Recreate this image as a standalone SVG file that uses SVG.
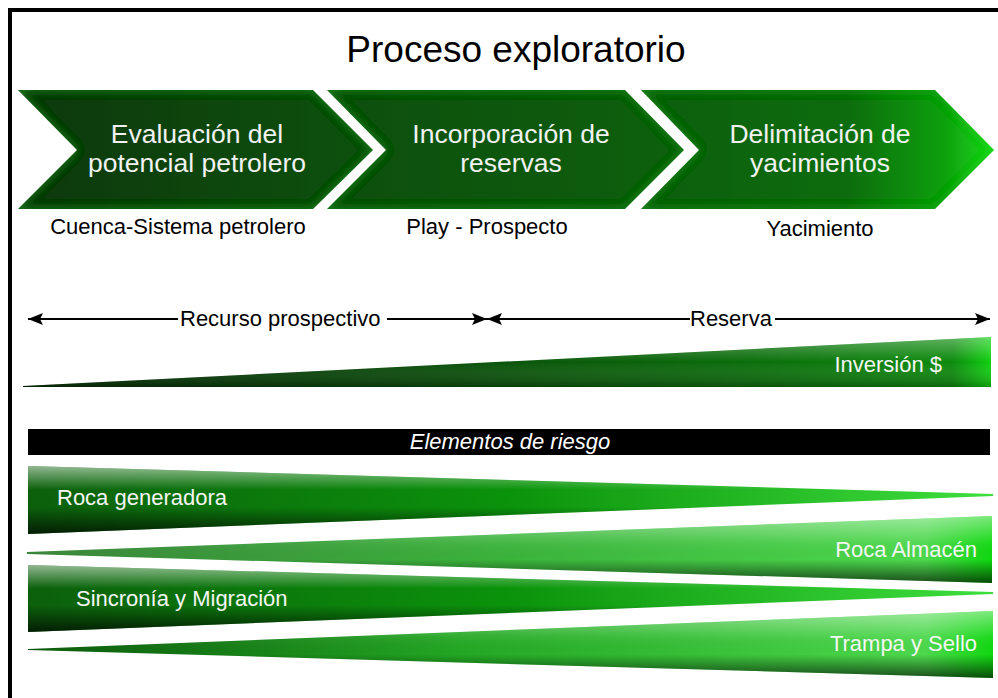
<svg xmlns="http://www.w3.org/2000/svg" width="998" height="698" viewBox="0 0 998 698">
<style>
text { font-family: "Liberation Sans", Arial, sans-serif; }
.title { font-size: 37px; fill: #000; }
.chev { font-size: 26.5px; fill: #f2f2f2; text-anchor: middle; }
.sub { font-size: 22px; fill: #000; text-anchor: middle; }
.lab { font-size: 22px; fill: #000; }
.wl { font-size: 22px; fill: #f6f6f6; }
.bar { font-size: 22px; fill: #fff; font-style: italic; text-anchor: middle; }
.ln { stroke: #000; stroke-width: 2.2; fill: none; }
</style>
<defs>
<linearGradient id="gChev" gradientUnits="userSpaceOnUse" x1="18" y1="0" x2="993" y2="0">
<stop offset="0" stop-color="#073807"/>
<stop offset="0.3" stop-color="#0a4d0a"/>
<stop offset="0.6" stop-color="#0a5c0a"/>
<stop offset="0.85" stop-color="#0b6c0b"/>
<stop offset="0.95" stop-color="#10a010"/>
<stop offset="1" stop-color="#16d816"/>
</linearGradient>
<filter id="bevel" x="-5%" y="-10%" width="110%" height="120%">
<feGaussianBlur in="SourceAlpha" stdDeviation="5" result="b"/>
<feComposite in="SourceAlpha" in2="b" operator="out" result="edge"/>
<feFlood flood-color="#3fcf3f" flood-opacity="0.25"/>
<feComposite in2="edge" operator="in" result="e2"/>
<feMerge><feMergeNode in="SourceGraphic"/><feMergeNode in="e2"/></feMerge>
</filter>
<linearGradient id="gInv" x1="0" y1="0" x2="1" y2="0">
<stop offset="0" stop-color="#062e06"/>
<stop offset="0.45" stop-color="#0a4f0a"/>
<stop offset="0.75" stop-color="#0b6e0b"/>
<stop offset="0.96" stop-color="#0d8a0d"/>
<stop offset="1" stop-color="#10d010"/>
</linearGradient>
<linearGradient id="gDec" x1="0" y1="0" x2="1" y2="0">
<stop offset="0" stop-color="#0c600c"/>
<stop offset="0.5" stop-color="#0b930b"/>
<stop offset="1" stop-color="#3ede3e"/>
</linearGradient>
<linearGradient id="gInc" x1="0" y1="0" x2="1" y2="0">
<stop offset="0" stop-color="#3a863a"/>
<stop offset="0.5" stop-color="#3bb43b"/>
<stop offset="0.93" stop-color="#4cd84c"/>
<stop offset="1" stop-color="#0fd80f"/>
</linearGradient>
<linearGradient id="gInc2" x1="0" y1="0" x2="1" y2="0">
<stop offset="0" stop-color="#0b5a0b"/>
<stop offset="0.45" stop-color="#23a823"/>
<stop offset="0.93" stop-color="#4cd84c"/>
<stop offset="1" stop-color="#0fd80f"/>
</linearGradient>
<linearGradient id="shade" x1="0" y1="0" x2="0" y2="1">
<stop offset="0" stop-color="#ffffff" stop-opacity="0.55"/>
<stop offset="0.35" stop-color="#ffffff" stop-opacity="0"/>
<stop offset="0.6" stop-color="#000000" stop-opacity="0"/>
<stop offset="1" stop-color="#000000" stop-opacity="0.7"/>
</linearGradient>
<linearGradient id="shadeInc" x1="0" y1="0" x2="0" y2="1">
<stop offset="0" stop-color="#ffffff" stop-opacity="0.45"/>
<stop offset="0.4" stop-color="#ffffff" stop-opacity="0.05"/>
<stop offset="0.65" stop-color="#000000" stop-opacity="0"/>
<stop offset="1" stop-color="#000000" stop-opacity="0.65"/>
</linearGradient>
<linearGradient id="shadeInv" x1="0" y1="0" x2="0" y2="1">
<stop offset="0" stop-color="#ffffff" stop-opacity="0.35"/>
<stop offset="0.5" stop-color="#ffffff" stop-opacity="0"/>
<stop offset="1" stop-color="#000000" stop-opacity="0.25"/>
</linearGradient>
<marker id="ah" markerUnits="userSpaceOnUse" markerWidth="16" markerHeight="12" refX="15" refY="6" orient="auto-start-reverse">
<path d="M0,0 L15,6 L0,12 L3,6 Z" fill="#000"/>
</marker>
</defs>

<rect x="0" y="0" width="998" height="698" fill="#fff"/>
<g id="frame">
<rect x="8" y="8" width="990" height="4" fill="#000"/>
<rect x="8" y="8" width="4" height="690" fill="#000"/>
</g>

<text class="title" x="516" y="62" text-anchor="middle">Proceso exploratorio</text>

<g id="chevron-evaluacion">
<path d="M18,90 L313,90 L373,150 L313,209 L18,209 L77,150 Z" fill="url(#gChev)" filter="url(#bevel)"/>
<text class="chev" x="197" y="143">Evaluación del</text>
<text class="chev" x="197" y="172">potencial petrolero</text>
<text class="sub" x="178" y="234">Cuenca-Sistema petrolero</text>
</g>
<g id="chevron-incorporacion">
<path d="M327,90 L625,90 L684,150 L625,209 L327,209 L386,150 Z" fill="url(#gChev)" filter="url(#bevel)"/>
<text class="chev" x="511" y="143">Incorporación de</text>
<text class="chev" x="511" y="172">reservas</text>
<text class="sub" x="487" y="234">Play - Prospecto</text>
</g>
<g id="chevron-delimitacion">
<path d="M641,90 L935,90 L994,150 L935,209 L641,209 L699,150 Z" fill="url(#gChev)" filter="url(#bevel)"/>
<text class="chev" x="820" y="143">Delimitación de</text>
<text class="chev" x="820" y="172">yacimientos</text>
<text class="sub" x="820" y="236">Yacimiento</text>
</g>

<g id="connectors">
<line class="ln" x1="28" y1="319" x2="178" y2="319" marker-start="url(#ah)"/>
<line class="ln" x1="387" y1="319" x2="487" y2="319" marker-end="url(#ah)"/>
<line class="ln" x1="487" y1="319" x2="690" y2="319" marker-start="url(#ah)"/>
<line class="ln" x1="775" y1="319" x2="990" y2="319" marker-end="url(#ah)"/>
</g>
<text class="lab" x="180" y="326">Recurso prospectivo</text>
<text class="lab" x="690" y="326">Reserva</text>

<g id="inversion">
<path d="M23,386 L991,337 L991,387 L23,387 Z" fill="url(#gInv)"/>
<path d="M23,386 L991,337 L991,387 L23,387 Z" fill="url(#shadeInv)"/>
<text class="wl" x="942" y="372" text-anchor="end">Inversión $</text>
</g>

<g id="elementos-riesgo">
<rect x="28" y="429" width="962" height="26" fill="#000"/>
<text class="bar" x="510" y="449">Elementos de riesgo</text>
</g>

<g id="roca-generadora">
<path d="M28,466 L993,494 L993,496 L28,534 Z" fill="url(#gDec)"/>
<path d="M28,466 L993,494 L993,496 L28,534 Z" fill="url(#shade)"/>
<text class="wl" x="57" y="505">Roca generadora</text>
</g>
<g id="roca-almacen">
<path d="M27,552 L992,516 L992,583 L27,554 Z" fill="url(#gInc)"/>
<path d="M27,552 L992,516 L992,583 L27,554 Z" fill="url(#shadeInc)"/>
<text class="wl" x="977" y="557" text-anchor="end">Roca Almacén</text>
</g>
<g id="sincronia-migracion">
<path d="M28,565 L993,592 L993,594 L28,632 Z" fill="url(#gDec)"/>
<path d="M28,565 L993,592 L993,594 L28,632 Z" fill="url(#shade)"/>
<text class="wl" x="76" y="606">Sincronía y Migración</text>
</g>
<g id="trampa-sello">
<path d="M28,649 L993,611 L993,678 L28,650 Z" fill="url(#gInc2)"/>
<path d="M28,649 L993,611 L993,678 L28,650 Z" fill="url(#shadeInc)"/>
<text class="wl" x="977" y="651" text-anchor="end">Trampa y Sello</text>
</g>
</svg>
